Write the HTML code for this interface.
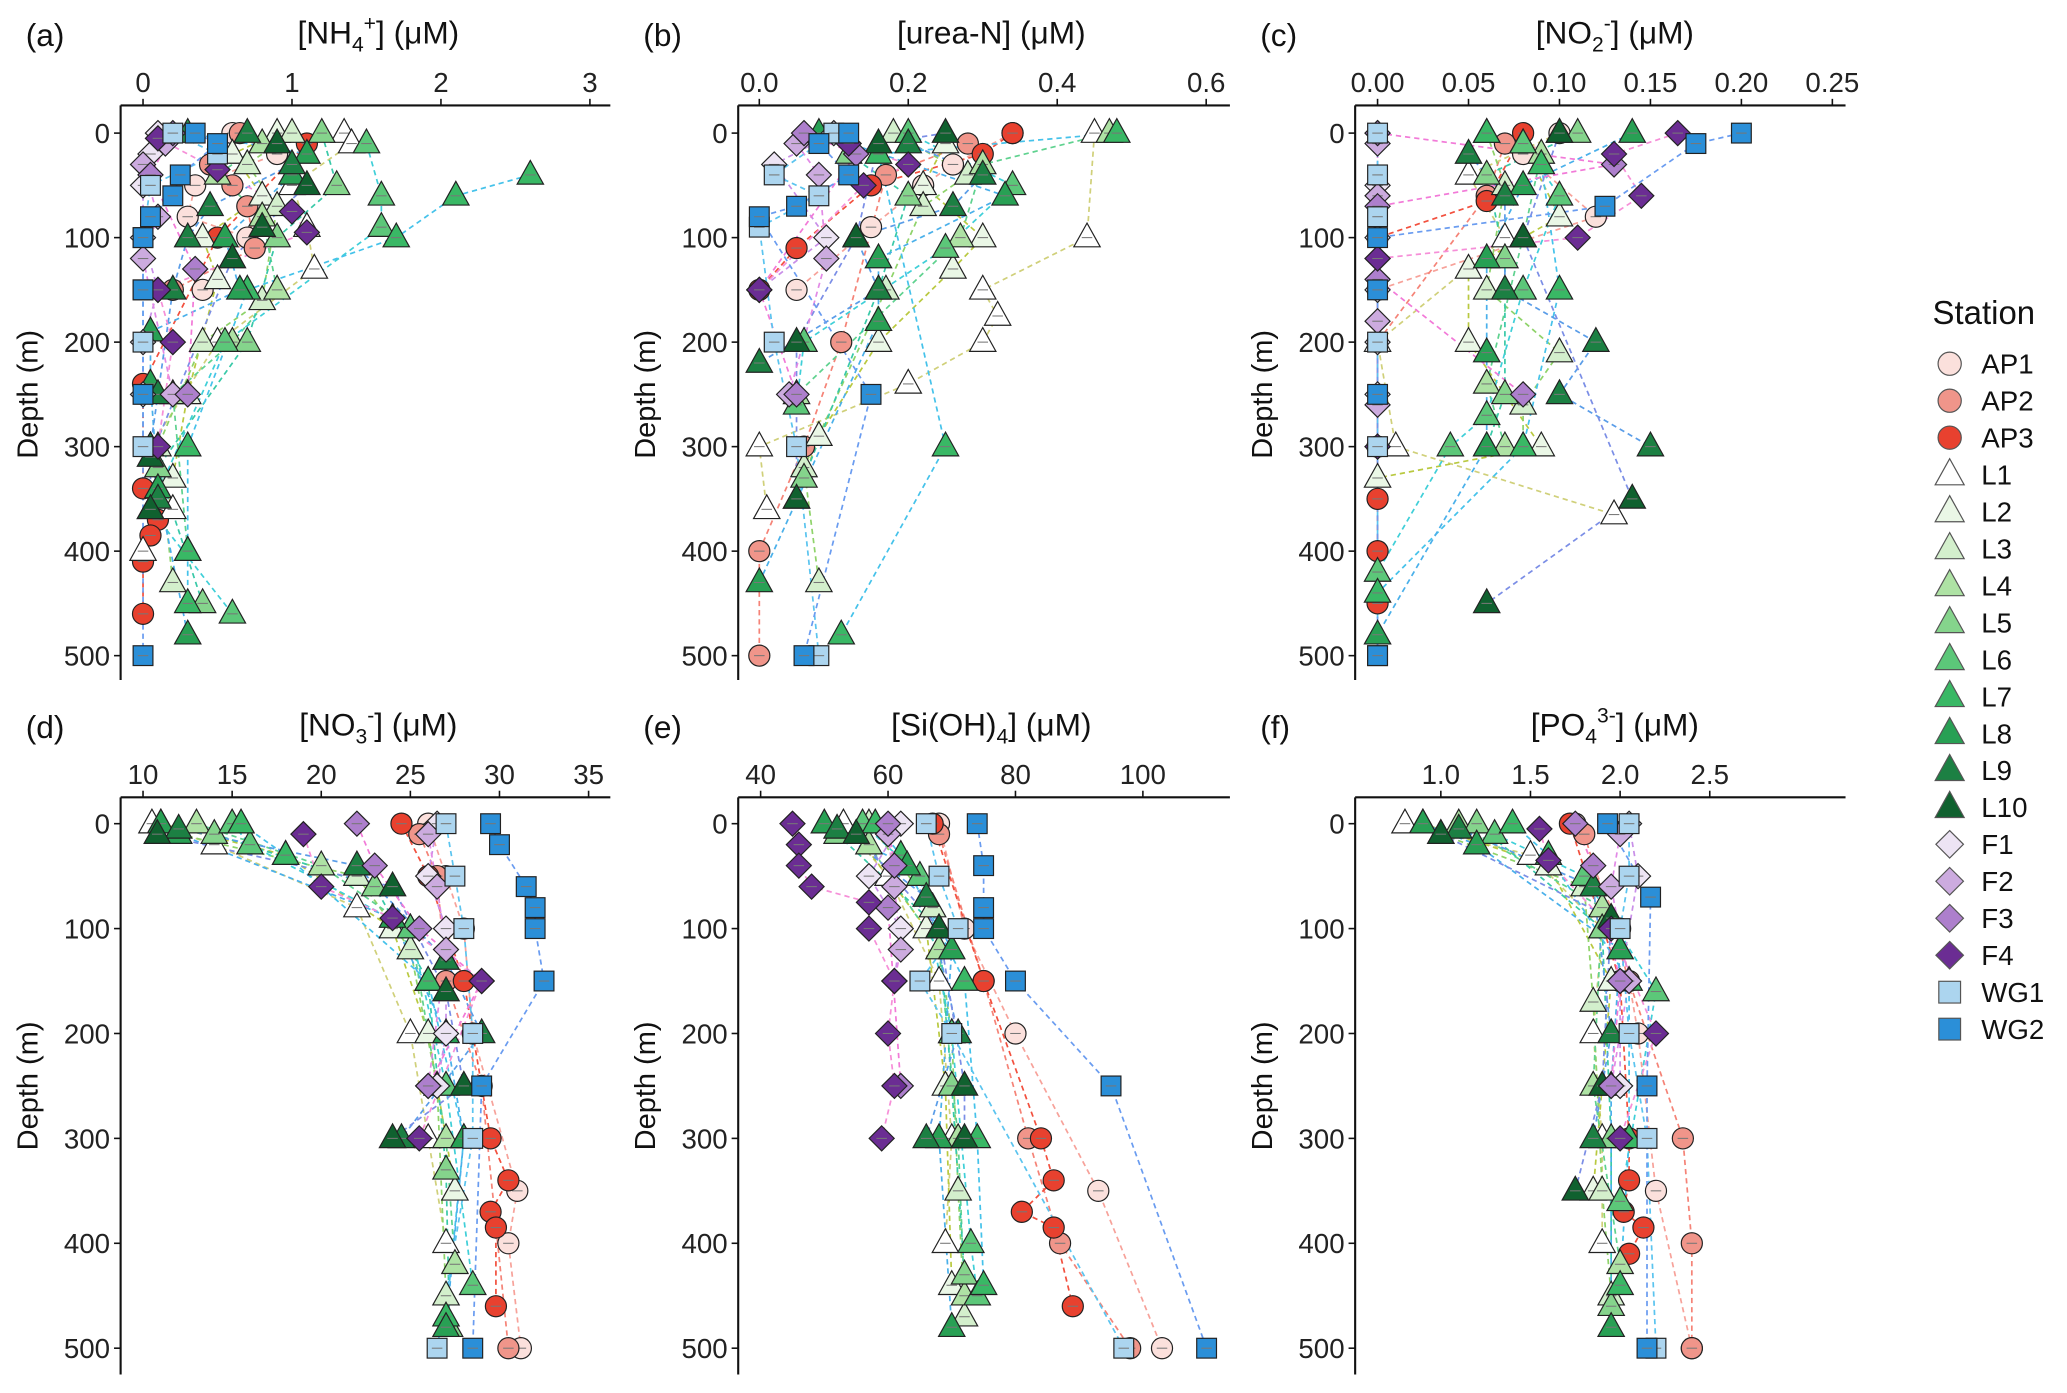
<!DOCTYPE html>
<html><head><meta charset="utf-8"><style>
html,body{margin:0;padding:0;background:#fff;}
svg{display:block;font-family:"Liberation Sans",Arial,sans-serif;}
</style></head><body>
<svg id="chart" width="2067" height="1393" viewBox="0 0 1568 1057" preserveAspectRatio="none" xmlns="http://www.w3.org/2000/svg"></svg>
<script>
const stations = ["AP1","AP2","AP3","L1","L2","L3","L4","L5","L6","L7","L8","L9","L10","F1","F2","F3","F4","WG1","WG2"];
const stationFill = ["#fbe0dc","#f0958a","#e8412f","#ffffff","#eaf7e6","#d3efcc","#aee2a4","#85d48c","#5cc779","#39b865","#28a054","#1c8043","#10612f","#ede4f4","#ccabdf","#ad7fcc","#6b2d93","#acd5ef","#2b8fd8"];
const stationLine = ["#f7a29a","#f58377","#f2503e","#d0d07a","#b9c940","#8fd36a","#5fd28f","#39c9a8","#3fcfd8","#45c2ea","#4ab0ea","#5a9de8","#7b8ee6","#c98fe8","#e28ae6","#f27ad8","#f68fd8","#5bc4ef","#6a9cf0"];

const dataA = {AP1:[[0,0.6],[20,0.9],[50,0.35],[80,0.3],[100,0.7],[150,0.4]],AP2:[[0,0.65],[30,0.45],[50,0.6],[70,0.7],[110,0.75],[150,0.2]],AP3:[[10,1.1],[100,0.5],[240,0],[340,0],[370,0.1],[385,0.05],[410,0],[460,0]],L1:[[0,1.35],[10,1.4],[50,1.0],[90,1.1],[130,1.15],[200,0.5],[300,0.05],[360,0.2],[400,0]],L2:[[0,0.9],[20,0.6],[60,0.8],[100,0.4],[140,0.5],[250,0.3],[330,0.2]],L3:[[0,1.0],[30,0.7],[70,0.9],[160,0.8],[200,0.4],[300,0.1],[430,0.2]],L4:[[10,0.8],[40,0.5],[80,0.8],[150,0.9],[200,0.6],[250,0.2],[400,0.3]],L5:[[0,1.2],[50,1.3],[100,0.9],[200,0.7],[320,0.1],[450,0.4]],L6:[[10,1.5],[60,1.6],[90,1.6],[200,0.55],[360,0.05],[460,0.6]],L7:[[40,2.6],[60,2.1],[100,1.7],[150,0.7],[300,0.3],[400,0.3],[450,0.3]],L8:[[0,0.3],[20,1.1],[40,1.0],[100,0.55],[150,0.65],[190,0.05],[240,0.05],[340,0.1],[480,0.3]],L9:[[0,0.7],[30,1.0],[70,0.45],[100,0.3],[150,0.2],[250,0.1],[300,0.05],[350,0.1]],L10:[[10,0.9],[50,1.1],[90,0.8],[120,0.6],[310,0.05],[360,0.05]],F1:[[0,0.1],[20,0.05],[50,0],[100,0],[150,0.1],[200,0],[250,0]],F2:[[10,0.15],[30,0],[80,0.1],[120,0],[250,0.2]],F3:[[0,0.2],[40,0.05],[130,0.35],[250,0.3]],F4:[[5,0.1],[35,0.5],[75,1.0],[95,1.1],[150,0.1],[200,0.2],[300,0.1]],WG1:[[0,0.2],[20,0.5],[50,0.05],[100,0],[150,0],[200,0],[300,0]],WG2:[[0,0.35],[10,0.5],[40,0.25],[60,0.2],[80,0.05],[100,0],[150,0],[250,0],[500,0]]};
const dataB = {AP1:[[0,0.34],[30,0.26],[50,0.22],[90,0.15],[150,0.05]],AP2:[[10,0.28],[40,0.17],[200,0.11],[300,0.06],[400,0],[500,0]],AP3:[[0,0.34],[20,0.3],[50,0.15],[110,0.05],[150,0]],L1:[[0,0.45],[100,0.44],[150,0.3],[175,0.32],[200,0.3],[240,0.2],[300,0],[360,0.01]],L2:[[10,0.25],[50,0.22],[100,0.3],[130,0.26],[200,0.16],[290,0.08],[350,0.05]],L3:[[0,0.18],[40,0.28],[70,0.22],[150,0.17],[320,0.06],[430,0.08]],L4:[[0,0.47],[30,0.3],[100,0.27],[250,0.05]],L5:[[20,0.12],[60,0.2],[150,0.16],[330,0.06]],L6:[[0,0.2],[50,0.34],[110,0.25],[200,0.06],[260,0.05]],L7:[[0,0.48],[20,0.16],[300,0.25],[480,0.11]],L8:[[0,0.08],[60,0.33],[120,0.16],[180,0.16],[430,0]],L9:[[10,0.2],[40,0.3],[70,0.26],[100,0.13],[150,0.16],[220,0]],L10:[[0,0.25],[10,0.16],[100,0.13],[200,0.05],[350,0.05]],F1:[[0,0.1],[30,0.02],[100,0.09],[150,0]],F2:[[10,0.05],[40,0.08],[120,0.09],[250,0.04]],F3:[[0,0.06],[20,0.13],[150,0],[250,0.05]],F4:[[10,0.12],[30,0.2],[50,0.14],[150,0]],WG1:[[0,0.1],[40,0.02],[60,0.08],[90,0],[200,0.02],[300,0.05],[500,0.08]],WG2:[[0,0.12],[10,0.08],[40,0.12],[70,0.05],[80,0],[250,0.15],[500,0.06]]};
const dataC = {AP1:[[0,0.1],[20,0.08],[80,0.12],[150,0]],AP2:[[10,0.07],[60,0.06],[200,0],[300,0]],AP3:[[0,0.08],[65,0.06],[100,0],[300,0],[350,0],[400,0],[450,0]],L1:[[0,0.1],[40,0.05],[100,0.07],[200,0],[300,0.01],[365,0.13]],L2:[[10,0.08],[80,0.1],[130,0.05],[200,0.05],[300,0.09],[330,0]],L3:[[0,0.06],[50,0.07],[150,0.06],[210,0.1],[260,0.08],[300,0.08]],L4:[[20,0.09],[100,0.08],[240,0.06],[300,0.07]],L5:[[0,0.11],[40,0.06],[120,0.07],[250,0.07],[300,0.06]],L6:[[10,0.08],[60,0.1],[150,0.08],[270,0.06],[300,0.04],[420,0]],L7:[[0,0.06],[30,0.09],[150,0.1],[300,0.08],[440,0]],L8:[[0,0.14],[50,0.08],[120,0.06],[210,0.06],[300,0.06],[480,0]],L9:[[20,0.05],[60,0.07],[150,0.07],[200,0.12],[250,0.1],[300,0.15]],L10:[[0,0.1],[100,0.08],[350,0.14],[450,0.06]],F1:[[0,0],[50,0],[100,0],[150,0],[200,0],[250,0],[300,0]],F2:[[10,0],[60,0],[120,0],[180,0],[260,0]],F3:[[0,0],[30,0.13],[70,0],[140,0],[250,0.08]],F4:[[0,0.165],[20,0.13],[60,0.145],[100,0.11],[120,0],[300,0]],WG1:[[0,0],[40,0],[80,0],[200,0],[300,0],[500,0]],WG2:[[0,0.2],[10,0.175],[70,0.125],[100,0],[150,0],[250,0],[500,0]]};
const dataD = {AP1:[[0,26],[50,27],[100,28],[200,28.5],[350,31],[400,30.5],[500,31.2]],AP2:[[10,25.5],[50,26.5],[150,27],[250,29],[500,30.5]],AP3:[[0,24.5],[50,26],[150,28],[300,29.5],[340,30.5],[370,29.5],[385,29.8],[460,29.8]],L1:[[0,10.5],[20,14],[80,22],[200,25],[300,26],[400,27]],L2:[[0,11],[30,18],[100,24],[200,26],[350,27.5]],L3:[[10,12],[50,22],[120,25],[250,26.5],[450,27]],L4:[[0,13],[40,20],[100,25],[300,27],[420,27.5]],L5:[[10,14],[60,23],[150,26],[330,27],[480,27.2]],L6:[[0,15],[20,16],[100,25],[250,27],[440,28.5]],L7:[[0,15.5],[30,18],[150,26],[300,28],[470,27]],L8:[[0,11],[10,12],[90,24],[200,27],[300,28],[480,27]],L9:[[5,12],[40,22],[130,27],[200,29],[300,24.5]],L10:[[10,10.8],[60,24],[160,27],[250,28],[300,24]],F1:[[0,26.5],[50,26],[100,27],[200,27],[250,26.5]],F2:[[10,26],[60,26.5],[120,27],[250,26]],F3:[[0,22],[40,23],[100,25.5],[150,29],[250,26]],F4:[[10,19],[60,20],[90,24],[150,29],[300,25.5]],WG1:[[0,27],[50,27.5],[100,28],[200,28.5],[300,28.5],[500,26.5]],WG2:[[0,29.5],[20,30],[60,31.5],[80,32],[100,32],[150,32.5],[250,29],[500,28.5]]};
const dataE = {AP1:[[0,68],[100,72],[200,80],[350,93],[500,103]],AP2:[[10,68],[150,75],[300,82],[400,87],[500,98]],AP3:[[0,67],[150,75],[300,84],[340,86],[370,81],[385,86],[460,89]],L1:[[0,53],[50,60],[150,68],[300,70],[400,69]],L2:[[10,55],[100,66],[250,69],[440,70]],L3:[[0,57],[80,67],[200,70],[350,71],[470,72]],L4:[[20,57],[120,68],[300,71],[450,72]],L5:[[10,52],[100,68],[250,70],[430,72]],L6:[[0,56],[50,65],[200,70],[400,73],[450,74]],L7:[[0,58],[30,62],[150,72],[300,74],[440,75]],L8:[[0,50],[40,63],[120,70],[300,68],[480,70]],L9:[[5,52],[70,66],[200,71],[300,66]],L10:[[10,55],[100,68],[250,72],[300,72]],F1:[[0,62],[50,57],[100,62],[150,61]],F2:[[10,60],[60,61],[120,62],[150,61]],F3:[[0,60],[40,61],[80,60],[250,62]],F4:[[0,45],[20,46],[40,46],[60,48],[75,57],[100,57],[150,61],[200,60],[250,61],[300,59]],WG1:[[0,66],[50,68],[100,71],[150,65],[200,70],[500,97]],WG2:[[0,74],[40,75],[80,75],[100,75],[150,80],[250,95],[500,110]]};
const dataF = {AP1:[[0,1.75],[100,2.0],[200,2.1],[350,2.2],[500,2.4]],AP2:[[10,1.8],[150,2.05],[300,2.35],[400,2.4],[500,2.4]],AP3:[[0,1.72],[150,2.0],[300,2.05],[340,2.05],[370,2.02],[385,2.13],[410,2.05]],L1:[[0,0.8],[30,1.5],[100,1.9],[200,1.85],[300,1.9],[400,1.9]],L2:[[0,0.9],[40,1.6],[150,1.95],[350,1.85]],L3:[[10,1.0],[60,1.8],[170,1.85],[350,1.9],[450,1.95]],L4:[[0,1.1],[80,1.9],[250,1.85],[420,2.0]],L5:[[0,1.2],[100,1.9],[300,1.95],[460,1.95]],L6:[[10,1.3],[50,1.8],[160,2.2],[360,2.0]],L7:[[0,1.4],[30,1.6],[150,2.05],[300,2.05],[440,2.0]],L8:[[0,0.9],[20,1.2],[120,2.0],[250,1.95],[480,1.95]],L9:[[5,1.1],[60,1.85],[200,1.95],[300,1.85]],L10:[[10,1.0],[90,1.95],[250,1.9],[350,1.75]],F1:[[0,2.05],[50,2.1],[150,2.0],[250,2.0]],F2:[[10,2.0],[60,1.95],[150,2.05],[250,1.95]],F3:[[0,1.75],[40,1.85],[150,2.0],[250,1.95]],F4:[[5,1.55],[35,1.6],[100,1.95],[200,2.2],[300,2.0]],WG1:[[0,2.05],[50,2.05],[100,2.0],[200,2.05],[300,2.15],[500,2.2]],WG2:[[0,1.93],[70,2.17],[250,2.15],[500,2.15]]};

const depthTicks = [0,100,200,300,400,500];
const ticksA = [0,1,2,3], ticksB = [0,0.2,0.4,0.6], ticksC = [0,0.05,0.1,0.15,0.2,0.25];
const ticksD = [10,15,20,25,30,35], ticksE = [40,60,80,100], ticksF = [1.0,1.5,2.0,2.5];
const labelsB = ["0.0","0.2","0.4","0.6"], labelsC = ["0.00","0.05","0.10","0.15","0.20","0.25"], labelsF = ["1.0","1.5","2.0","2.5"];

const NS="http://www.w3.org/2000/svg";
const svg=document.getElementById('chart');
function mk(tag,attrs,parent){const e=document.createElementNS(NS,tag);for(const k in attrs)e.setAttribute(k,attrs[k]);(parent||svg).appendChild(e);return e;}

function shapeFor(st){if(st.startsWith('AP'))return 'circle';if(st.startsWith('L'))return 'tri';if(st.startsWith('F'))return 'dia';return 'sq';}
function marker(g,st,cx,cy,s){
  const fill=stationFill[stations.indexOf(st)],sh=shapeFor(st);let e;
  if(sh==='circle')e=mk('circle',{cx:cx,cy:cy,r:8*s},g);
  else if(sh==='tri')e=mk('polygon',{points:`${cx},${cy-11*s} ${cx-10*s},${cy+7*s} ${cx+10*s},${cy+7*s}`},g);
  else if(sh==='dia')e=mk('polygon',{points:`${cx},${cy-9.5*s} ${cx+9.5*s},${cy} ${cx},${cy+9.5*s} ${cx-9.5*s},${cy}`},g);
  else e=mk('rect',{x:cx-7.5*s,y:cy-7.5*s,width:15*s,height:15*s},g);
  e.setAttribute('fill',fill);e.setAttribute('stroke','#222');e.setAttribute('stroke-width',0.9);
  return e;
}

const panels=[
 {id:'a',data:dataA,ticks:ticksA,labels:null,v0:0,px0:108.5,k:113,ax:91.5,right:463,xAxisY:80,d0:101,dk:0.793,bottom:516,titleX:287,titleY:33,tag:'(a)',title:['[NH',{sub:'4'},{sup:'+'},'] (μM)']},
 {id:'b',data:dataB,ticks:ticksB,labels:labelsB,v0:0,px0:576,k:565,ax:560,right:933,xAxisY:80,d0:101,dk:0.793,bottom:516,titleX:752,titleY:33,tag:'(b)',title:['[urea-N] (μM)']},
 {id:'c',data:dataC,ticks:ticksC,labels:labelsC,v0:0,px0:1045,k:1380,ax:1028,right:1400,xAxisY:80,d0:101,dk:0.793,bottom:516,titleX:1225,titleY:33,tag:'(c)',title:['[NO',{sub:'2'},{sup:'-'},'] (μM)']},
 {id:'d',data:dataD,ticks:ticksD,labels:null,v0:10,px0:108.5,k:13.52,ax:91.5,right:463,xAxisY:605,d0:625,dk:0.796,bottom:1043,titleX:287,titleY:558,tag:'(d)',title:['[NO',{sub:'3'},{sup:'-'},'] (μM)']},
 {id:'e',data:dataE,ticks:ticksE,labels:null,v0:40,px0:577,k:4.833,ax:560,right:933,xAxisY:605,d0:625,dk:0.796,bottom:1043,titleX:752,titleY:558,tag:'(e)',title:['[Si(OH)',{sub:'4'},'] (μM)']},
 {id:'f',data:dataF,ticks:ticksF,labels:labelsF,v0:1.0,px0:1093,k:136,ax:1028,right:1400,xAxisY:605,d0:625,dk:0.796,bottom:1043,titleX:1225,titleY:558,tag:'(f)',title:['[PO',{sub:'4'},{sup:'3-'},'] (μM)']}
];

panels.forEach(p=>{
  const X=v=>p.px0+(v-p.v0)*p.k, Y=d=>p.d0+d*p.dk;
  const g=mk('g',{});
  
  
  const tag=mk('text',{x:p.ax-72,y:p.titleY+2,'font-size':24,fill:'#111'},g);tag.textContent=p.tag;
  
  
  const t=mk('text',{x:p.titleX,y:p.titleY,'font-size':24,'text-anchor':'middle',fill:'#111'},g);
  
  
  p.title.forEach(part=>{
    if(typeof part==='string'){const s=mk('tspan',{},t);s.textContent=part;}
    else if(part.sub){const s=mk('tspan',{'baseline-shift':'-6','font-size':16},t);s.textContent=part.sub;}
    else {const s=mk('tspan',{'baseline-shift':'10','font-size':16},t);s.textContent=part.sup;}
  });
  const xa=mk('line',{x1:p.ax,x2:p.right,y1:p.xAxisY,y2:p.xAxisY,stroke:'#111','stroke-width':1.6},g);
  
  
  const ya=mk('line',{x1:p.ax,x2:p.ax,y1:p.xAxisY,y2:p.bottom,stroke:'#111','stroke-width':1.6},g);
  
  
  p.ticks.forEach((v,i)=>{
    const x=X(v);
    mk('line',{x1:x,x2:x,y1:p.xAxisY,y2:p.xAxisY-5,stroke:'#111','stroke-width':1.2},g);
    const tl=mk('text',{x:x,y:p.xAxisY-10,'font-size':21,'text-anchor':'middle',fill:'#222'},g);
    tl.textContent=p.labels?p.labels[i]:String(v);
    
    
  });
  depthTicks.forEach(d=>{
    const y=Y(d);
    mk('line',{x1:p.ax,x2:p.ax-5,y1:y,y2:y,stroke:'#111','stroke-width':1.2},g);
    const tl=mk('text',{x:p.ax-8,y:y+7.5,'font-size':21,'text-anchor':'end',fill:'#222'},g);
    tl.textContent=String(d);
    
    
  });
  const yl=mk('text',{x:0,y:0,'font-size':22,'text-anchor':'middle',fill:'#111',transform:`translate(${p.ax-63},${(p.d0+Y(500))/2}) rotate(-90)`},g);
  yl.textContent='Depth (m)';
  
  
  stations.forEach((st,si)=>{
    const pts=(p.data[st]||[]).slice().sort((a,b)=>a[0]-b[0]);
    if(pts.length<2)return;
    const pl=mk('polyline',{points:pts.map(q=>X(q[1])+','+Y(q[0])).join(' '),fill:'none',stroke:stationLine[si],'stroke-width':1.3,'stroke-dasharray':'4 3'},g);
    
    
  });
  stations.forEach(st=>{
    (p.data[st]||[]).forEach(q=>{
      const x=X(q[1]),y=Y(q[0]);
      const e=marker(g,st,x,y,1);
      
      
      mk('line',{x1:x-4,x2:x+4,y1:y,y2:y,stroke:'#777','stroke-width':0.8},g);
    });
  });
});

const lg=mk('g',{});


const lt=mk('text',{x:1466,y:246,'font-size':25,fill:'#111'},lg);lt.textContent='Station';


stations.forEach((st,i)=>{
  const y=276+i*28.05;
  const m=marker(lg,st,1479,y,1.1);
  m.setAttribute('stroke','#555');
  
  
  const tx=mk('text',{x:1503,y:y+7.5,'font-size':21,fill:'#111'},lg);tx.textContent=st;
  
  
});
</script>
</body></html>
